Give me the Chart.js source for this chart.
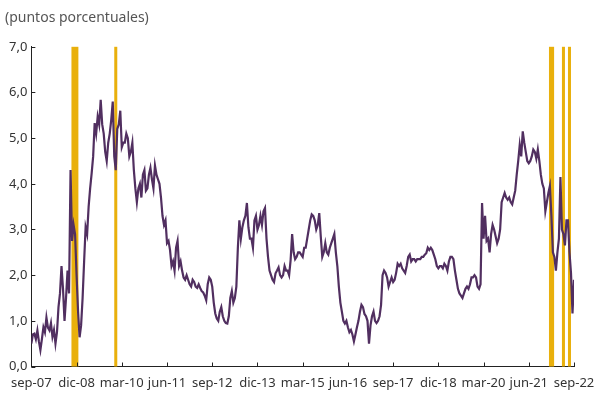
<!DOCTYPE html>
<html><head><meta charset="utf-8">
<script src="https://cdn.jsdelivr.net/npm/chart.js@4.4.0/dist/chart.umd.min.js"></script>
<style>html,body{margin:0;padding:0;background:#fff}#wrap{width:594px;height:394px}</style>
</head><body><div id="wrap"><canvas id="c" width="594" height="394"></canvas></div>
<script>
// Tick labels, every 15 months starting sep-07
const tickLabels = ['sep-07','dic-08','mar-10','jun-11','sep-12','dic-13','mar-15','jun-16','sep-17','dic-18','mar-20','jun-21','sep-22'];
const tickStepMonths = 15;
// Series: values every half month from sep-07 (puntos porcentuales)
const stepMonths = 0.5;
const spreadValues = [
0.50,0.70, 0.72,0.60, 0.79,0.55, 0.36,0.60, 0.86,0.75, 1.07,0.85, 0.79,0.95, 0.65,0.80, 0.50,0.75, 1.30,1.60, 2.20,1.70, 1.00,1.50,
2.10,1.60, 4.30,2.75, 3.10,2.90, 2.00,1.20, 0.64,0.90, 1.50,2.30, 3.05,2.90, 3.50,3.90, 4.23,4.60, 5.33,5.10, 5.47,5.30, 5.84,5.30,
5.10,4.70, 4.50,4.90, 5.10,5.40, 5.80,4.60, 4.30,5.20, 5.30,5.60, 4.80,4.90, 4.90,5.10, 5.00,4.60, 4.70,4.90, 4.30,3.90, 3.60,3.90,
4.00,3.70, 4.20,4.30, 3.85,3.90, 4.20,4.35, 4.10,3.90, 4.40,4.20, 4.10,4.00, 3.70,3.30, 3.10,3.20, 2.70,2.75, 2.55,2.20, 2.30,2.10,
2.60,2.75, 2.20,2.30, 2.10,1.95, 1.90,2.00, 1.90,1.80, 1.75,1.90, 1.85,1.75, 1.72,1.80, 1.72,1.65, 1.62,1.55, 1.45,1.80, 1.95,1.90,
1.75,1.40, 1.16,1.05, 1.00,1.20, 1.30,1.10, 1.00,0.95, 0.94,1.10, 1.50,1.65, 1.40,1.50, 1.75,2.60, 3.20,2.80, 3.05,3.20, 3.30,3.58,
3.05,2.80, 2.80,2.60, 3.20,3.30, 3.00,3.10, 3.30,3.10, 3.40,3.47, 2.80,2.40, 2.10,2.00, 1.90,1.85, 2.04,2.10, 2.17,2.00, 1.95,2.00,
2.20,2.10, 2.10,2.00, 2.33,2.90, 2.50,2.35, 2.40,2.50, 2.50,2.45, 2.40,2.60, 2.60,2.80, 3.00,3.20, 3.33,3.30, 3.20,3.00, 3.10,3.36,
2.85,2.40, 2.50,2.70, 2.50,2.45, 2.60,2.70, 2.80,2.90, 2.50,2.20, 1.75,1.40, 1.20,1.00, 0.94,1.00, 0.86,0.75, 0.80,0.70, 0.55,0.70,
0.86,1.00, 1.20,1.35, 1.30,1.15, 1.10,1.00, 0.50,0.90, 1.10,1.20, 1.00,0.95, 1.00,1.10, 1.35,2.00, 2.10,2.05, 1.95,1.75, 1.85,1.95,
1.85,1.90, 2.05,2.25, 2.20,2.25, 2.15,2.10, 2.05,2.20, 2.40,2.45, 2.30,2.35, 2.35,2.30, 2.35,2.35, 2.35,2.40, 2.40,2.45, 2.48,2.60,
2.55,2.60, 2.55,2.45, 2.35,2.20, 2.15,2.20, 2.20,2.15, 2.25,2.20, 2.10,2.30, 2.40,2.40, 2.35,2.10, 1.90,1.70, 1.60,1.55, 1.50,1.60,
1.70,1.75, 1.70,1.80, 1.95,1.95, 2.00,1.95, 1.75,1.70, 1.80,3.58, 2.80,3.30, 2.75,2.80, 2.50,2.90, 3.10,3.00, 2.85,2.70, 2.80,3.00,
3.60,3.70, 3.80,3.70, 3.65,3.70, 3.60,3.55, 3.70,3.85, 4.20,4.50, 4.85,4.60, 5.15,4.90, 4.70,4.50, 4.45,4.50, 4.60,4.75, 4.70,4.55,
4.75,4.50, 4.20,4.00, 3.90,3.40, 3.60,3.80, 3.95,3.30, 2.50,2.40, 2.10,2.50, 2.80,4.15, 3.00,2.90, 2.65,3.20, 3.20,2.50, 2.05,1.16,
1.90
];
// Shaded periods (months since sep-07)
const bandStartMonths = [13.3, 27.5, 171.7, 176.0, 178.0];
const bandEndMonths   = [15.6, 28.5, 173.4, 177.0, 179.0];

const FONT = '"Noto Sans", "Open Sans", sans-serif';
const points = spreadValues.map((v, i) => ({x: i * stepMonths, y: v}));

const bandsPlugin = {
  id: 'bands',
  beforeDatasetsDraw(chart) {
    const {ctx, chartArea, scales} = chart;
    const x = scales.x;
    ctx.save();
    ctx.fillStyle = '#E9B00C';
    for (let i = 0; i < bandStartMonths.length; i++) {
      const x1 = x.getPixelForValue(bandStartMonths[i]);
      const x2 = x.getPixelForValue(bandEndMonths[i]);
      ctx.fillRect(x1, chartArea.top, x2 - x1, chartArea.bottom - chartArea.top);
    }
    ctx.restore();
  }
};
const innerTicksPlugin = {
  id: 'innerTicks',
  afterDraw(chart) {
    const {ctx, chartArea, scales} = chart;
    ctx.save();
    ctx.strokeStyle = '#222';
    ctx.lineWidth = 1;
    ctx.beginPath();
    scales.x.ticks.forEach((t, i) => {
      const px = Math.round(scales.x.getPixelForTick(i)) + 0.5;
      ctx.moveTo(px, chartArea.bottom);
      ctx.lineTo(px, chartArea.bottom - 4);
    });
    scales.y.ticks.forEach((t, i) => {
      const py = Math.round(scales.y.getPixelForTick(i)) + 0.5;
      ctx.moveTo(chartArea.left, py);
      ctx.lineTo(chartArea.left + 4, py);
    });
    ctx.stroke();
    ctx.restore();
  }
};

new Chart(document.getElementById('c'), {
  type: 'line',
  data: {
    datasets: [{
      data: points,
      borderColor: '#512F60',
      borderWidth: 2.2,
      pointRadius: 0,
      tension: 0,
      fill: false
    }]
  },
  options: {
    responsive: false,
    animation: false,
    devicePixelRatio: 1,
    layout: {padding: {left: 5, right: 2, top: 0, bottom: 3}},
    plugins: {
      legend: {display: false},
      tooltip: {enabled: false},
      title: {
        display: true,
        text: '(puntos porcentuales)',
        align: 'start',
        color: '#555',
        font: {family: FONT, size: 14, weight: 'normal'},
        padding: {top: 10, bottom: 20}
      }
    },
    scales: {
      x: {
        type: 'linear',
        min: 0,
        max: 180,
        grid: {display: false, drawTicks: false, tickLength: 0},
        border: {display: true, color: '#222', width: 1},
        afterFit(scale) { scale.paddingRight = 20; scale.height = 24.5; },
        ticks: {
          stepSize: tickStepMonths,
          autoSkip: false,
          maxRotation: 0,
          padding: 8.5,
          color: '#333',
          font: {family: FONT, size: 13},
          callback: (v) => tickLabels[Math.round(v / tickStepMonths)] || ''
        }
      },
      y: {
        min: 0,
        max: 7,
        grid: {display: false, drawTicks: false, tickLength: 0},
        border: {display: true, color: '#222', width: 1},
        ticks: {
          stepSize: 1,
          padding: 4,
          color: '#333',
          font: {family: FONT, size: 13},
          callback: (v) => v.toFixed(1).replace('.', ',')
        }
      }
    }
  },
  plugins: [bandsPlugin, innerTicksPlugin]
});
</script>
</body></html>
